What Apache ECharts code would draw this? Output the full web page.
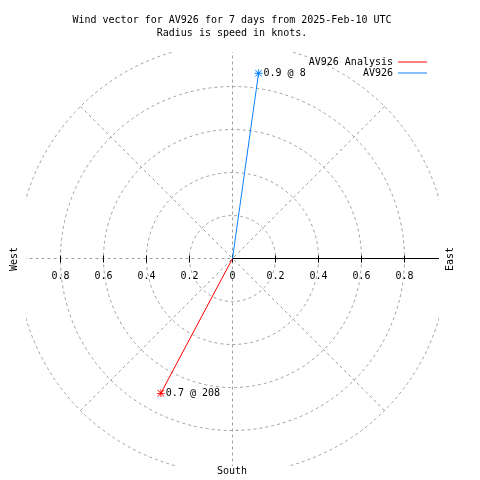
<!DOCTYPE html>
<html><head><meta charset="utf-8">
<script src="https://cdn.jsdelivr.net/npm/echarts@6/dist/echarts.min.js"></script>
<style>html,body{margin:0;padding:0;background:#fff}#c{width:480px;height:480px}</style>
</head><body><div id="c"></div>
<script>
// ---- data ----
const titleLines = ['Wind vector for AV926 for 7 days from 2025-Feb-10 UTC', 'Radius is speed in knots.'];
const seriesNames = ['AV926 Analysis', 'AV926'];
const speeds = [0.71, 0.87];       // knots
const directions = [208, 8];       // degrees clockwise from north
const radiusTicks = [0, 0.2, 0.4, 0.6, 0.8, 1.0];
const compassLabels = ['West', 'East', 'South'];

// ---- styling ----
const FONT = 'DejaVu Sans Mono';
const CENTER = [232.5, 258.5];
const R = 215;
const GREY = '#a0a0a0';
const COLORS = ['#ff0000', '#0a80ff'];
const STAR = 'path://M0,4.5h10v1h-10z M4.5,0h1v10h-1z M0.6,1.3L1.3,0.6L9.4,8.7L8.7,9.4Z M8.7,0.6L9.4,1.3L1.3,9.4L0.6,8.7Z';
const rMax = radiusTicks[radiusTicks.length - 1];
const rStep = radiusTicks[1] - radiusTicks[0];

const chart = echarts.init(document.getElementById('c'), null, {renderer: 'canvas'});

const hiddenAngle = (idx, start) => ({polarIndex: idx, type: 'value', min: 0, max: 360, interval: 45, startAngle: start, clockwise: true,
  axisLine: {show: false}, axisTick: {show: false}, axisLabel: {show: false}, splitLine: {show: false}});
const tickOnly = (idx, len) => ({polarIndex: idx, type: 'value', min: 0, max: rMax, interval: rStep,
  axisLine: {show: false}, axisLabel: {show: false}, splitLine: {show: false},
  axisTick: {show: true, length: len, lineStyle: {color: '#000'}}});

const option = {
  animation: false,
  textStyle: {fontFamily: FONT, fontSize: 10, color: '#000'},
  polar: [
    {center: CENTER, radius: R},
    {center: CENTER, radius: R},
    {center: CENTER, radius: R},
    {center: CENTER, radius: R},
    {center: CENTER, radius: R}
  ],
  angleAxis: [
    Object.assign(hiddenAngle(0, 90), {splitLine: {show: true, lineStyle: {color: GREY, width: 1, type: [3, 3]}}}),
    hiddenAngle(1, 0),
    hiddenAngle(2, 180),
    hiddenAngle(3, 0),
    hiddenAngle(4, 180)
  ],
  radiusAxis: [
    {polarIndex: 0, type: 'value', min: 0, max: rMax, interval: rStep,
      axisLine: {show: false}, axisTick: {show: false}, axisLabel: {show: false},
      splitLine: {show: true, lineStyle: {color: GREY, width: 1, type: [3, 3]}}},
    {polarIndex: 1, type: 'value', min: 0, max: rMax, interval: rStep,
      axisLine: {show: true, lineStyle: {color: '#000', width: 1}},
      axisTick: {show: true, length: 3, lineStyle: {color: '#000'}},
      axisLabel: {show: true, showMaxLabel: false, margin: -18, verticalAlign: 'middle', fontFamily: FONT, fontSize: 10, color: '#000'},
      splitLine: {show: false}},
    {polarIndex: 2, type: 'value', min: 0, max: rMax, interval: rStep,
      axisLine: {show: false},
      axisTick: {show: true, length: 4, lineStyle: {color: '#000'}},
      axisLabel: {show: true, showMaxLabel: false, showMinLabel: false, margin: 18, verticalAlign: 'middle', fontFamily: FONT, fontSize: 10, color: '#000'},
      splitLine: {show: false}},
    tickOnly(3, -4),
    tickOnly(4, -3)
  ],
  legend: {
    data: seriesNames.map(n => ({name: n, icon: 'rect'})),
    orient: 'vertical', right: 53, top: 57, align: 'right',
    itemWidth: 29, itemHeight: 1, itemGap: 1, padding: 0, selectedMode: false,
    textStyle: {fontFamily: FONT, fontSize: 10, color: '#000'}
  },
  series: seriesNames.map((name, i) => ({
    name: name, type: 'line', coordinateSystem: 'polar', polarIndex: 0,
    symbol: STAR, symbolSize: 8, showAllSymbol: true,
    lineStyle: {color: COLORS[i], width: 1},
    itemStyle: {color: COLORS[i]},
    data: [
      {value: [0, directions[i]], symbol: 'none', label: {show: false}},
      {value: [speeds[i], directions[i]],
        label: {show: true, position: 'right', distance: 1, fontFamily: FONT, fontSize: 10, color: '#000',
          formatter: () => speeds[i].toFixed(1) + ' @ ' + directions[i]}}
    ],
    z: 3
  })),
  graphic: [
    {type: 'rect', shape: {x: 0, y: 0, width: 480, height: 52}, style: {fill: '#fff'}, z: 50, silent: true},
    {type: 'rect', shape: {x: 0, y: 466, width: 480, height: 14}, style: {fill: '#fff'}, z: 50, silent: true},
    {type: 'rect', shape: {x: 0, y: 0, width: 26, height: 480}, style: {fill: '#fff'}, z: 50, silent: true},
    {type: 'rect', shape: {x: 439, y: 0, width: 41, height: 480}, style: {fill: '#fff'}, z: 50, silent: true},
    {type: 'text', x: 232, y: 20, z: 100, style: {text: titleLines[0], font: '10px ' + FONT, fill: '#000', align: 'center', verticalAlign: 'middle'}},
    {type: 'text', x: 232, y: 33, z: 100, style: {text: titleLines[1], font: '10px ' + FONT, fill: '#000', align: 'center', verticalAlign: 'middle'}},
    {type: 'text', x: 14, y: 259, rotation: Math.PI / 2, z: 100, style: {text: compassLabels[0], font: '10px ' + FONT, fill: '#000', align: 'center', verticalAlign: 'middle'}},
    {type: 'text', x: 450, y: 259, rotation: Math.PI / 2, z: 100, style: {text: compassLabels[1], font: '10px ' + FONT, fill: '#000', align: 'center', verticalAlign: 'middle'}},
    {type: 'text', x: 232, y: 471, z: 100, style: {text: compassLabels[2], font: '10px ' + FONT, fill: '#000', align: 'center', verticalAlign: 'middle'}}
  ]
};
chart.setOption(option);
</script>
</body></html>
